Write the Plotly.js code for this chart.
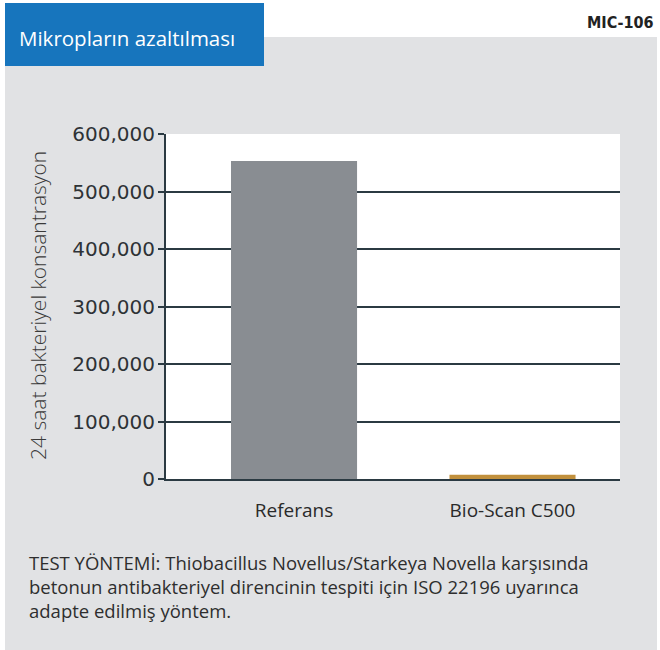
<!DOCTYPE html>
<html>
<head>
<meta charset="utf-8">
<script src="https://cdn.plot.ly/plotly-3.0.1.min.js"></script>
<style>html,body{margin:0;padding:0;background:#fff;}#chart{width:660px;height:650px;}</style>
</head>
<body>
<div id="chart"></div>
<script>
const categories = ["Referans", "Bio-Scan C500"];
const values = [553000, 7500];
const barColors = ["#898d92", "#c1903c"];
const yTickValues = [0, 100000, 200000, 300000, 400000, 500000, 600000];
const headerTitle = "Mikropların azaltılması";
const codeLabel = "MIC-106";
const yTitle = "24 saat bakteriyel konsantrasyon";
const footerLines = [
  "TEST YÖNTEMİ: Thiobacillus Novellus/Starkeya Novella karşısında",
  "betonun antibakteriyel direncinin tespiti için ISO 22196 uyarınca",
  "adapte edilmiş yöntem."
];

const W = 660, H = 650;
const L = 166, R = 40, T = 134, B = 171;
const pw = W - L - R, ph = H - T - B;
function px(x) { return (x - L) / pw; }
function py(y) { return (H - B - y) / ph; }
const textFont = "'Open Sans', 'Noto Sans', sans-serif";

const trace = {
  type: "bar",
  x: categories,
  y: values,
  marker: { color: barColors, line: { width: 0 } },
  width: 0.577,
  hoverinfo: "skip"
};

const layout = {
  width: W, height: H,
  margin: { l: L, r: R, t: T, b: B, pad: 0 },
  paper_bgcolor: "#ffffff",
  plot_bgcolor: "#ffffff",
  showlegend: false,
  font: { family: textFont, color: "#333" },
  xaxis: {
    type: "category",
    range: [-0.586, 1.492],
    showline: true, linecolor: "#2b3a42", linewidth: 2,
    ticks: "", showgrid: false, zeroline: false,
    tickfont: { family: textFont, size: 19, color: "#2a2a2a", weight: 400 },
    ticklabelstandoff: 13,
    fixedrange: true
  },
  yaxis: {
    range: [0, 600000],
    tickvals: yTickValues,
    tickformat: ",d",
    showgrid: true, gridcolor: "#2b3a42", gridwidth: 2,
    showline: true, linecolor: "#2b3a42", linewidth: 2,
    ticks: "outside", ticklen: 6, tickcolor: "#2b3a42", tickwidth: 2,
    zeroline: false,
    tickfont: { family: "'DejaVu Sans', sans-serif", size: 20, color: "#2e3236" },
    ticklabelstandoff: -1,
    fixedrange: true
  },
  shapes: [
    { type: "rect", xref: "paper", yref: "paper", layer: "below",
      x0: px(5), x1: px(657), y0: py(650), y1: py(37),
      fillcolor: "#e1e2e4", line: { width: 0 } },
    { type: "rect", xref: "paper", yref: "paper", layer: "below",
      x0: px(5), x1: px(264), y0: py(66), y1: py(3),
      fillcolor: "#1775bd", line: { width: 0 } },
    { type: "rect", xref: "paper", yref: "paper", layer: "below",
      x0: 0, x1: 1, y0: 0, y1: 1,
      fillcolor: "#ffffff", line: { width: 0 } }
  ],
  annotations: [
    { xref: "paper", yref: "paper", x: px(17), y: py(38), xanchor: "left", yanchor: "middle",
      text: headerTitle, showarrow: false,
      font: { family: textFont, size: 20.5, color: "#ffffff", weight: 400 } },
    { xref: "paper", yref: "paper", x: px(656), y: py(22), xanchor: "right", yanchor: "middle",
      text: "<b>" + codeLabel + "</b>", showarrow: false,
      font: { family: "'DejaVu Sans Condensed', 'Liberation Sans Narrow', 'Arial Narrow', sans-serif", size: 16, color: "#222" } },
    { xref: "paper", yref: "paper", x: px(38), y: py(306), xanchor: "center", yanchor: "middle",
      text: yTitle, textangle: -90, showarrow: false,
      font: { family: textFont, size: 21, color: "#3a3a3a", weight: 300 } },
    { xref: "paper", yref: "paper", x: px(27), y: py(586.5), xanchor: "left", yanchor: "middle",
      align: "left", text: footerLines.join("<br>"), showarrow: false,
      font: { family: textFont, size: 18.5, color: "#2e2e2e", weight: 400 } }
  ]
};

Plotly.newPlot("chart", [trace], layout, { staticPlot: true, displayModeBar: false });
</script>
</body>
</html>
